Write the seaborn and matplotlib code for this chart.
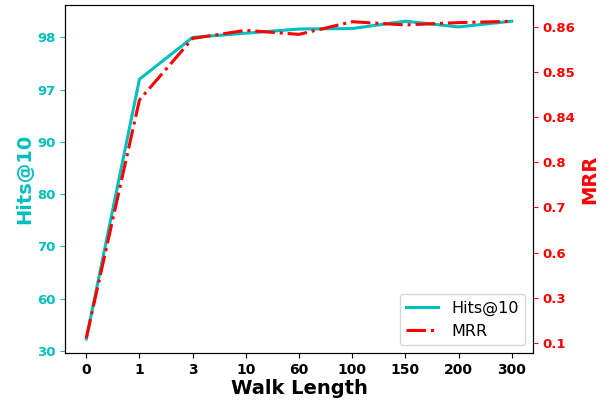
import numpy as np
import pandas as pd
import matplotlib
matplotlib.use("Agg")
import matplotlib.pyplot as plt
import seaborn as sns

walk_lengths = ["0", "1", "3", "10", "60", "100", "150", "200", "300"]
hits10 = [36.9, 97.2, 98.0, 98.08, 98.16, 98.17, 98.31, 98.2, 98.31]
mrr = [0.122, 0.8438, 0.8574, 0.8592, 0.8583, 0.8611, 0.8604, 0.8609, 0.8612]
hits_ticks = [30, 60, 70, 80, 90, 97, 98]
mrr_ticks = [0.1, 0.3, 0.6, 0.7, 0.8, 0.84, 0.85, 0.86]


def make_scale(ticks, lo, hi):
    vals = np.array([lo] + list(ticks) + [hi], dtype=float)
    n = len(ticks)
    pos = np.arange(-1, n + 1, dtype=float)

    def fwd(v):
        return np.interp(v, vals, pos)

    def inv(p):
        return np.interp(p, pos, vals)
    return fwd, inv


plt.rcParams.update({"font.family": "DejaVu Sans"})
fig = plt.figure(figsize=(6.08, 4.03), dpi=100)
ax = fig.add_axes([65 / 608, 1 - 353 / 403, (533 - 65) / 608, (353 - 5) / 403])
ax2 = ax.twinx()

x = np.arange(len(walk_lengths))
df = pd.DataFrame({"x": x, "hits": hits10, "mrr": mrr})

ax.set_yscale("function", functions=make_scale(hits_ticks, 0, 99))
ax2.set_yscale("function", functions=make_scale(mrr_ticks, -0.1, 0.87))

sns.lineplot(data=df, x="x", y="hits", ax=ax, color="c", lw=2.2, label="Hits@10", legend=False)
sns.lineplot(data=df, x="x", y="mrr", ax=ax2, color="r", lw=2.2, linestyle="-.", label="MRR", legend=False)

ax.set_xlim(-0.4, len(x) - 1 + 0.4)
ax.set_ylim(28.8, 98.62)
ax2.set_ylim(0.056, 0.8648)

fs = 9.5
ax.set_xticks(x)
ax.set_xticklabels(walk_lengths, fontsize=10, fontweight="bold")
ax.set_yticks(hits_ticks)
ax.set_yticklabels([str(t) for t in hits_ticks], fontsize=fs, fontweight="bold", color="c")
ax.yaxis.set_minor_locator(matplotlib.ticker.NullLocator())
ax.tick_params(axis="y", colors="c")
ax2.set_yticks(mrr_ticks)
ax2.set_yticklabels([str(t) for t in mrr_ticks], fontsize=fs, fontweight="bold", color="r")
ax2.yaxis.set_minor_locator(matplotlib.ticker.NullLocator())
ax2.tick_params(axis="y", colors="r")

ax.set_xlabel("Walk Length", fontsize=14, fontweight="bold", labelpad=2)
ax.set_ylabel("Hits@10", fontsize=14, fontweight="bold", color="c", labelpad=2)
ax2.set_ylabel("MRR", fontsize=14, fontweight="bold", color="r", labelpad=3)

h1, l1 = ax.get_legend_handles_labels()
h2, l2 = ax2.get_legend_handles_labels()
ax2.legend(h1 + h2, l1 + l2, loc="lower right", fontsize=11.5)

fig.savefig("out.png", dpi=100)
